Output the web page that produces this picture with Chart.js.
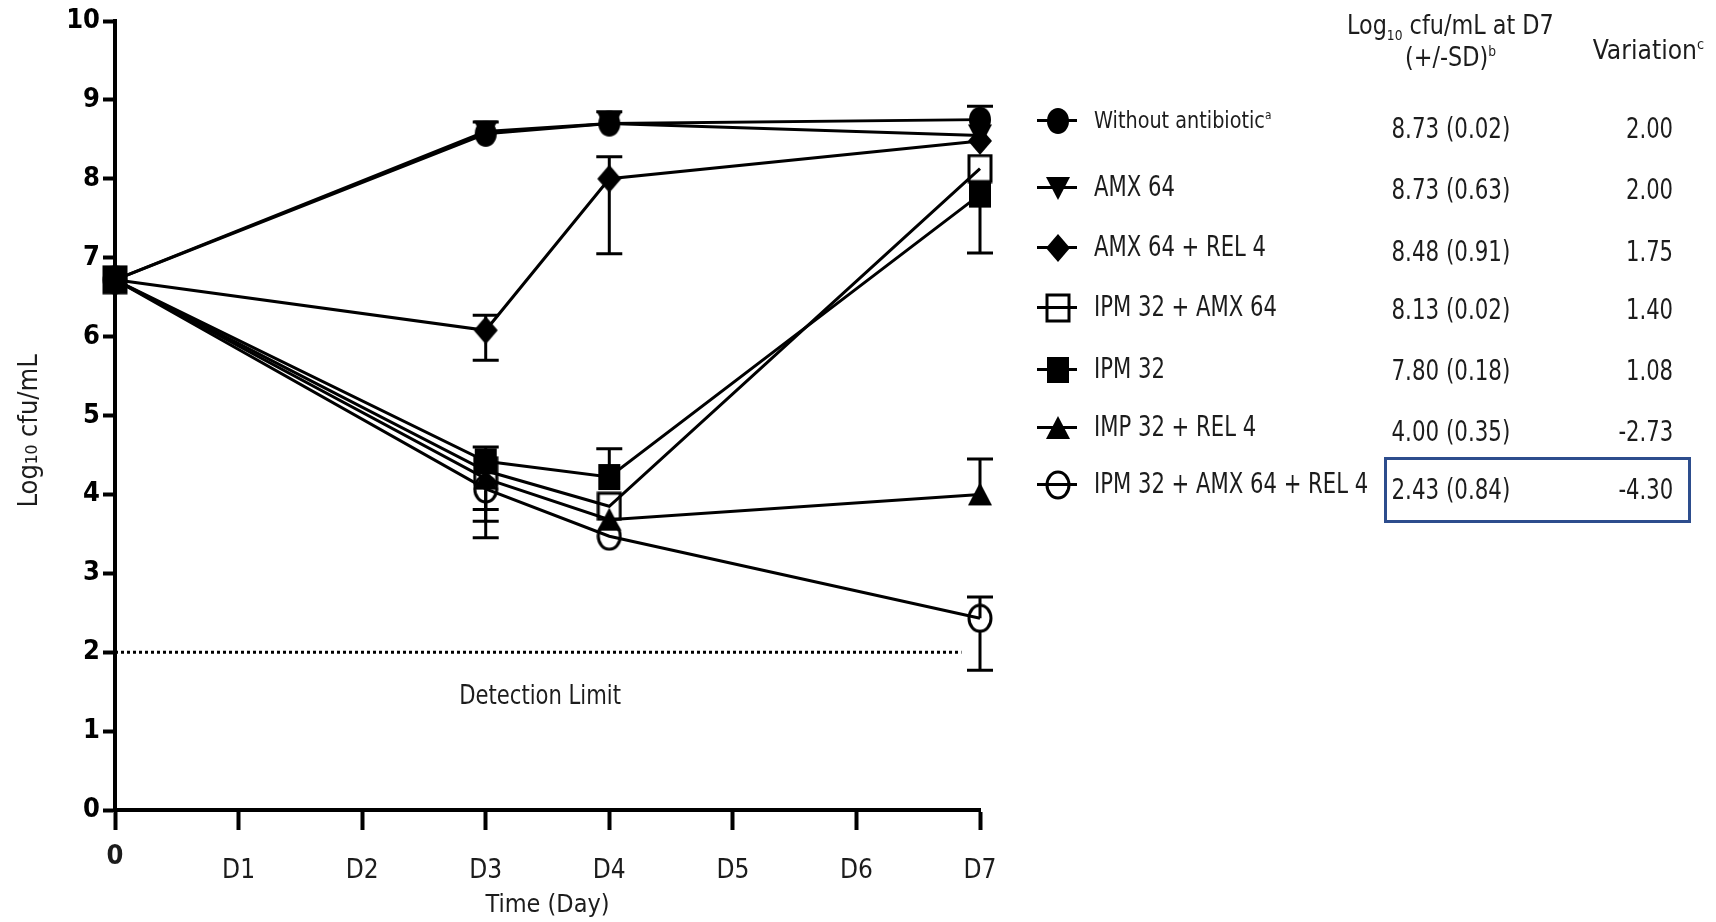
<!DOCTYPE html>
<html>
<head>
<meta charset="utf-8">
<title>Log10 cfu/mL over time</title>
<script src="https://cdn.jsdelivr.net/npm/chart.js@4.4.1/dist/chart.umd.min.js"></script>
<style>
  html, body { margin: 0; padding: 0; background: #fff; }
  #wrap { position: relative; width: 1716px; height: 922px; overflow: hidden; }
  #chart { position: absolute; left: 0; top: 0; }
  .t {
    position: absolute;
    font-family: "Liberation Sans Narrow", "DejaVu Sans Condensed", "Open Sans", sans-serif;
    color: #1c1c1c;
    white-space: nowrap;
    line-height: 1;
  }
  .t span { display: inline-block; }
  .t sup, .t sub { font-size: 55%; }
  .sym { position: absolute; width: 40px; height: 30px; }
  .sym .ln { position: absolute; left: 0; top: 14px; width: 40px; height: 3px; background: #000; }
  .sym img { position: absolute; left: 8px; top: 1px; }
  #box { position: absolute; left: 1384px; top: 457px; width: 301px; height: 60px; border: 3px solid #2d4d8d; }
</style>
</head>
<body>
<div id="wrap">
  <canvas id="chart" width="1716" height="922"></canvas>
  <div id="table"></div>
  <div id="box"></div>
</div>
<script>
// Sampling days (x values) and axis labels
var days = [0, 3, 4, 7];
var dayLabels = ['0', 'D1', 'D2', 'D3', 'D4', 'D5', 'D6', 'D7'];

// Log10 cfu/mL per group
var noAntibiotic = [6.72, 8.57, 8.70, 8.75];
var amx = [6.72, 8.60, 8.70, 8.55];
var amxRel = [6.72, 6.08, 8.00, 8.48];
var ipmAmx = [6.72, 4.30, 3.85, 8.13];
var ipm = [6.72, 4.42, 4.22, 7.80];
var ipmRel = [6.72, 4.20, 3.68, 4.00];
var ipmAmxRel = [6.72, 4.07, 3.47, 2.43];

// error bars (upper / lower length), as drawn
var noAntibioticUp = [0, 0.15, 0.15, 0.17];
var amxRelUp = [0, 0.19, 0.28, 0];
var amxRelDown = [0, 0.38, 0.95, 0];
var ipmAmxDown = [0, 0.49, 0, 0];
var ipmUp = [0, 0.18, 0.36, 0];
var ipmDown = [0, 0, 0, 0.74];
var ipmRelUp = [0, 0, 0, 0.45];
var ipmRelDown = [0, 0.54, 0, 0];
var ipmAmxRelUp = [0, 0, 0, 0.27];
var ipmAmxRelDown = [0, 0.62, 0, 0.66];

var detectionLimit = 2;
var detectionEnd = 6.85;

// table on the right
var groupNames = ['Without antibiotic', 'AMX 64', 'AMX 64 + REL 4', 'IPM 32 + AMX 64', 'IPM 32', 'IMP 32 + REL 4', 'IPM 32 + AMX 64 + REL 4'];
var d7Values = ['8.73 (0.02)', '8.73 (0.63)', '8.48 (0.91)', '8.13 (0.02)', '7.80 (0.18)', '4.00 (0.35)', '2.43 (0.84)'];
var variations = ['2.00', '2.00', '1.75', '1.40', '1.08', '-2.73', '-4.30'];

var FONT = '"Liberation Sans Narrow", "DejaVu Sans Condensed", "Open Sans", sans-serif';

// Marker drawing: the figure's symbols are slightly taller than wide
function marker(shape, filled) {
  var w = 26, h = 30, c = document.createElement('canvas'), g;
  c.width = w; c.height = h;
  g = c.getContext('2d');
  g.fillStyle = '#000';
  g.strokeStyle = '#000';
  g.lineWidth = 3;
  g.beginPath();
  if (shape === 'circle') {
    g.ellipse(w / 2, h / 2, w / 2 - 2, h / 2 - 2, 0, 0, Math.PI * 2);
  } else if (shape === 'square') {
    g.rect(2, 2, w - 4, h - 4);
  } else if (shape === 'diamond') {
    g.moveTo(w / 2, 1); g.lineTo(w - 1, h / 2); g.lineTo(w / 2, h - 1); g.lineTo(1, h / 2); g.closePath();
  } else if (shape === 'up') {
    g.moveTo(w / 2, 3); g.lineTo(w - 1, h - 4); g.lineTo(1, h - 4); g.closePath();
  } else if (shape === 'down') {
    g.moveTo(1, 4); g.lineTo(w - 1, 4); g.lineTo(w / 2, h - 3); g.closePath();
  }
  if (filled) { g.fill(); } else { g.stroke(); }
  return c;
}

var markers = [
  marker('circle', true),
  marker('down', true),
  marker('diamond', true),
  marker('square', false),
  marker('square', true),
  marker('up', true),
  marker('circle', false)
];

function series(values, i, up, down) {
  return {
    label: groupNames[i],
    data: values.map(function (v, k) { return { x: days[k], y: v }; }),
    borderColor: '#000',
    borderWidth: 3,
    tension: 0,
    clip: false,
    pointStyle: markers[i],
    errUp: up || null,
    errDown: down || null,
    order: i
  };
}

// vertical SD bars with caps, drawn under the markers
var errorBars = {
  id: 'errorBars',
  beforeDatasetsDraw: function (chart) {
    var ctx = chart.ctx, xs = chart.scales.x, ys = chart.scales.y;
    ctx.save();
    ctx.strokeStyle = '#000';
    ctx.lineWidth = 3;
    chart.data.datasets.forEach(function (ds) {
      ds.data.forEach(function (p, k) {
        var px = xs.getPixelForValue(p.x), py = ys.getPixelForValue(p.y), end;
        if (ds.errUp && ds.errUp[k]) {
          end = ys.getPixelForValue(p.y + ds.errUp[k]);
          ctx.beginPath();
          ctx.moveTo(px, py); ctx.lineTo(px, end);
          ctx.moveTo(px - 13, end); ctx.lineTo(px + 13, end);
          ctx.stroke();
        }
        if (ds.errDown && ds.errDown[k]) {
          end = ys.getPixelForValue(p.y - ds.errDown[k]);
          ctx.beginPath();
          ctx.moveTo(px, py + 12); ctx.lineTo(px, end);
          ctx.moveTo(px - 13, end); ctx.lineTo(px + 13, end);
          ctx.stroke();
        }
      });
    });
    ctx.restore();
  },
  afterDatasetsDraw: function (chart) {
    var ctx = chart.ctx, xs = chart.scales.x, ys = chart.scales.y;
    ctx.save();
    ctx.fillStyle = '#1c1c1c';
    ctx.font = '27px ' + FONT;
    ctx.textAlign = 'center';
    ctx.textBaseline = 'middle';
    ctx.translate(xs.getPixelForValue(3.44), ys.getPixelForValue(1.43));
    ctx.scale(0.87, 1);
    ctx.fillText('Detection Limit', 0, 0);
    ctx.restore();
  }
};

var datasets = [
  series(noAntibiotic, 0, noAntibioticUp, null),
  series(amx, 1, null, null),
  series(amxRel, 2, amxRelUp, amxRelDown),
  series(ipmAmx, 3, null, ipmAmxDown),
  series(ipm, 4, ipmUp, ipmDown),
  series(ipmRel, 5, ipmRelUp, ipmRelDown),
  series(ipmAmxRel, 6, ipmAmxRelUp, ipmAmxRelDown),
  {
    label: 'Detection Limit',
    data: [{ x: 0, y: detectionLimit }, { x: detectionEnd, y: detectionLimit }],
    borderColor: '#000',
    borderWidth: 3,
    borderDash: [3, 3],
    pointRadius: 0,
    order: 10
  }
];

new Chart(document.getElementById('chart'), {
  type: 'line',
  data: { datasets: datasets },
  plugins: [errorBars],
  options: {
    responsive: false,
    animation: false,
    events: [],
    layout: { padding: { left: 14, right: 736, top: 21, bottom: 0 } },
    plugins: { legend: { display: false }, tooltip: { enabled: false } },
    scales: {
      x: {
        type: 'linear',
        min: 0,
        max: 7,
        afterFit: function (s) { s.height = 112; },
        afterBuildTicks: function (s) {
          s.ticks = dayLabels.map(function (l, i) { return { value: i }; });
        },
        ticks: {
          autoSkip: false,
          maxRotation: 0,
          padding: 26,
          color: '#1c1c1c',
          callback: function (v) { return dayLabels[v]; },
          // the origin label sits a little higher and is bold in the figure
          font: function (c) {
            return c.tick && c.tick.value === 0 ?
              { family: FONT, size: 27, weight: 'bold', lineHeight: 0.05 } : { family: FONT, size: 26 };
          }
        },
        grid: { drawOnChartArea: false, drawTicks: true, tickLength: 20, tickWidth: 4, tickColor: '#000' },
        border: { display: true, width: 4, color: '#000' },
        title: { display: true, text: 'Time (Day)', color: '#1c1c1c', font: { family: FONT, size: 25 }, padding: { top: 0, bottom: 2 } }
      },
      y: {
        min: 0,
        max: 10,
        afterFit: function (s) { s.width = 101; },
        ticks: { stepSize: 1, padding: 3, color: '#000', font: { family: FONT, size: 27, weight: 'bold' } },
        grid: { drawOnChartArea: false, drawTicks: true, tickLength: 12, tickWidth: 4, tickColor: '#000' },
        border: { display: true, width: 4, color: '#000' },
        title: { display: true, text: 'Log\u2081\u2080 cfu/mL    ', color: '#1c1c1c', font: { family: FONT, size: 27 }, padding: 0 }
      }
    }
  }
});

// right-hand table (legend + D7 values)
(function () {
  var table = document.getElementById('table');
  var labelY = [120, 187, 247, 307, 369, 427, 484];
  var valueY = [129, 190, 252, 310, 371, 432, 490];
  function text(html, x, y, size, align, sx) {
    var d = document.createElement('div'), s = document.createElement('span');
    d.className = 't';
    s.innerHTML = html;
    s.style.transform = 'scaleX(' + sx + ')';
    d.appendChild(s);
    d.style.fontSize = size + 'px';
    d.style.top = (y - size / 2) + 'px';
    if (align === 'center') {
      d.style.left = (x - 200) + 'px'; d.style.width = '400px'; d.style.textAlign = 'center';
      s.style.transformOrigin = 'center';
    } else if (align === 'right') {
      d.style.left = (x - 200) + 'px'; d.style.width = '200px'; d.style.textAlign = 'right';
      s.style.transformOrigin = 'right';
    } else {
      d.style.left = x + 'px';
      s.style.transformOrigin = 'left';
    }
    table.appendChild(d);
  }
  text('Log<sub>10</sub> cfu/mL at D7', 1450, 24, 27, 'center', 0.92);
  text('(+/-SD)<sup>b</sup>', 1450, 56, 27, 'center', 0.92);
  text('Variation<sup>c</sup>', 1648, 49, 27, 'center', 0.97);
  groupNames.forEach(function (name, i) {
    var s = document.createElement('div'), ln = document.createElement('div'), img = new Image();
    s.className = 'sym';
    s.style.left = '1037px';
    s.style.top = (labelY[i] - 15) + 'px';
    ln.className = 'ln';
    img.src = markers[i].toDataURL();
    s.appendChild(ln);
    s.appendChild(img);
    table.appendChild(s);
    if (i === 0) {
      text(name + '<sup>a</sup>', 1094, labelY[i], 23, 'left', 0.93);
    } else {
      text(name, 1094, labelY[i], 28, 'left', 0.84);
    }
    text(d7Values[i], 1451, valueY[i], 28, 'center', 0.85);
    text(variations[i], 1673, valueY[i], 28, 'right', 0.84);
  });
})();
</script>
</body>
</html>
